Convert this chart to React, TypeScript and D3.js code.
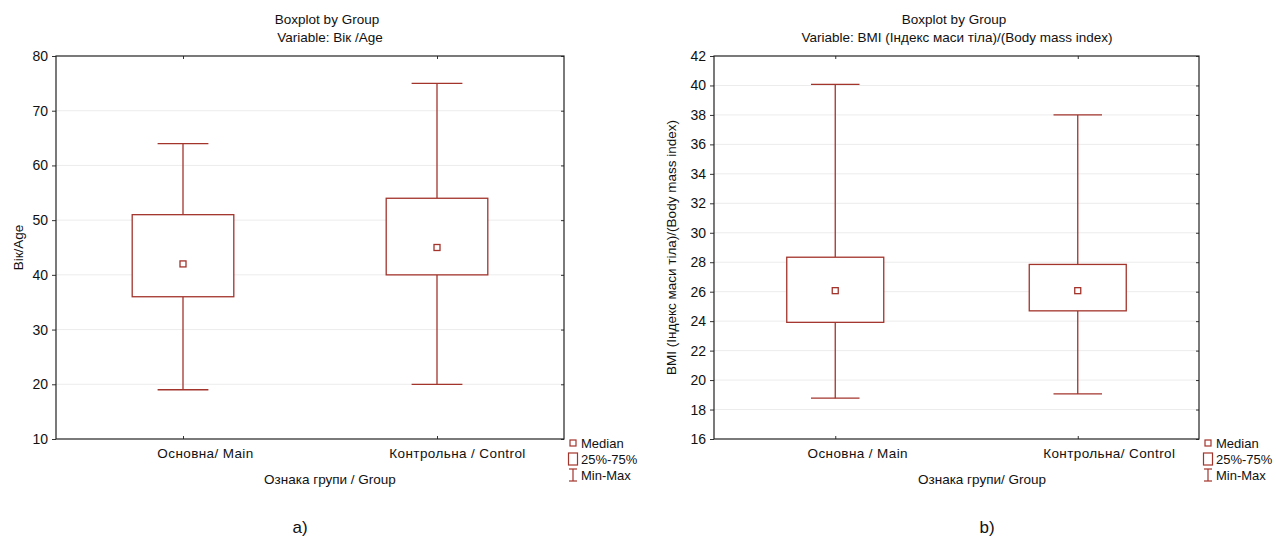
import React, { useRef, useEffect } from "react"
import * as d3 from "d3"

// groups
const categoriesA = ["Основна/ Main", "Контрольна / Control"]
const categoriesB = ["Основна / Main", "Контрольна/ Control"]

// a) age
const ageMin = [19, 20]
const ageQ1 = [36, 40]
const ageMedian = [42, 45]
const ageQ3 = [51, 54]
const ageMax = [64, 75]
const ageTicks = [10, 20, 30, 40, 50, 60, 70, 80]

// b) BMI
const bmiMin = [18.77, 19.06]
const bmiQ1 = [23.92, 24.7]
const bmiMedian = [26.07, 26.07]
const bmiQ3 = [28.34, 27.85]
const bmiMax = [40.08, 38.0]
const bmiTicks = [16, 18, 20, 22, 24, 26, 28, 30, 32, 34, 36, 38, 40, 42]

const legendLabels = ["Median", "25%-75%", "Min-Max"]

const RED = "#a3342c"
const FONT = "'Liberation Sans', Arial, sans-serif"

const App = () => {
    let element = useRef<SVGSVGElement>(null)

    useEffect(() => {
        const svg = d3.select(element.current)
        svg.selectAll("*").remove()

        const panels = [
            {
                cats: categoriesA, min: ageMin, q1: ageQ1, med: ageMedian, q3: ageQ3, max: ageMax,
                ticks: ageTicks, x0: 56, x1: 564, titleX: 330, xTitleX: 330, yLabelX: 18,
                title2: "Variable: Вік /Age", yLabel: "Вік/Age", xTitle: "Ознака групи / Group",
                legendX: 573, tag: "a)", tagX: 300, labelDx: [22, 20]
            },
            {
                cats: categoriesB, min: bmiMin, q1: bmiQ1, med: bmiMedian, q3: bmiQ3, max: bmiMax,
                ticks: bmiTicks, x0: 714, x1: 1199, titleX: 957, xTitleX: 982, yLabelX: 671,
                title2: "Variable: BMI (Індекс маси тіла)/(Body mass index)",
                yLabel: "BMI (Індекс маси тіла)/(Body mass index)", xTitle: "Ознака групи/ Group",
                legendX: 1208, tag: "b)", tagX: 987, labelDx: [22, 31]
            }
        ]
        const top = 56, bottom = 439

        panels.forEach(p => {
            const g = svg.append("g")
            let x = d3.scalePoint<string>().domain(p.cats).range([p.x0, p.x1]).padding(0.5)
            let y = d3.scaleLinear()
                .domain([p.ticks[0], p.ticks[p.ticks.length - 1]])
                .range([bottom, top])
            const step = x.step()

            // grid
            g.append("g").selectAll("line")
                .data(p.ticks.slice(1, -1))
                .join("line")
                .attr("x1", p.x0).attr("x2", p.x1)
                .attr("y1", d => y(d)).attr("y2", d => y(d))
                .attr("stroke", "#ececec")

            // left axis
            const yAxis = g.append("g")
                .attr("transform", `translate(${p.x0},0)`)
                .call(d3.axisLeft(y).tickValues(p.ticks).tickSize(4).tickPadding(4).tickFormat(d3.format("d")))
            yAxis.select(".domain").remove()
            yAxis.selectAll("text").attr("font-size", 14).attr("font-family", FONT).attr("fill", "#111")
            yAxis.selectAll("line").attr("stroke", "#333")

            // right inner ticks
            const yAxisR = g.append("g")
                .attr("transform", `translate(${p.x1},0)`)
                .call(d3.axisLeft(y).tickValues(p.ticks).tickSize(3).tickFormat(() => ""))
            yAxisR.select(".domain").remove()
            yAxisR.selectAll("line").attr("stroke", "#333").attr("x2", -3)

            // bottom axis
            const xAxis = g.append("g")
                .attr("transform", `translate(0,${bottom})`)
                .call(d3.axisBottom(x).tickSize(-3).tickPadding(9))
            xAxis.select(".domain").remove()
            xAxis.selectAll("text")
                .attr("font-size", 13.5).attr("font-family", FONT).attr("fill", "#111")
                .attr("dx", (_d, i) => p.labelDx[i])
                .attr("letter-spacing", 0.4)
            xAxis.selectAll("line").attr("stroke", "#333")

            // top ticks
            const xAxisT = g.append("g")
                .attr("transform", `translate(0,${top})`)
                .call(d3.axisTop(x).tickSize(-3).tickFormat(() => ""))
            xAxisT.select(".domain").remove()
            xAxisT.selectAll("line").attr("stroke", "#333")

            // frame
            g.append("rect")
                .attr("x", p.x0).attr("y", top)
                .attr("width", p.x1 - p.x0).attr("height", bottom - top)
                .attr("fill", "none").attr("stroke", "#222").attr("stroke-width", 1.2)

            // boxes
            const boxHalf = step * 0.2, capHalf = step * 0.1
            p.cats.forEach((c, i) => {
                const cx = x(c)!
                const bg = g.append("g").attr("stroke", RED).attr("stroke-width", 1.3).attr("fill", "none")
                bg.append("line").attr("x1", cx).attr("x2", cx).attr("y1", y(p.max[i])).attr("y2", y(p.q3[i]))
                bg.append("line").attr("x1", cx).attr("x2", cx).attr("y1", y(p.q1[i])).attr("y2", y(p.min[i]))
                bg.append("line").attr("x1", cx - capHalf).attr("x2", cx + capHalf).attr("y1", y(p.max[i])).attr("y2", y(p.max[i]))
                bg.append("line").attr("x1", cx - capHalf).attr("x2", cx + capHalf).attr("y1", y(p.min[i])).attr("y2", y(p.min[i]))
                bg.append("rect")
                    .attr("x", cx - boxHalf).attr("y", y(p.q3[i]))
                    .attr("width", boxHalf * 2).attr("height", y(p.q1[i]) - y(p.q3[i]))
                    .attr("fill", "white")
                bg.append("rect")
                    .attr("x", cx - 3).attr("y", y(p.med[i]) - 3)
                    .attr("width", 6).attr("height", 6).attr("fill", "white")
            })

            // titles
            const t = g.append("g").attr("font-family", FONT).attr("font-size", 13.5).attr("fill", "#111").attr("text-anchor", "middle")
            t.append("text").attr("x", p.titleX - 3).attr("y", 24).text("Boxplot by Group")
            t.append("text").attr("x", p.titleX).attr("y", 42).text(p.title2)
            t.append("text").attr("x", p.xTitleX).attr("y", 484).text(p.xTitle)
            t.append("text")
                .attr("transform", `translate(${p.yLabelX},${(top + bottom) / 2}) rotate(-90)`)
                .attr("dy", "0.35em")
                .text(p.yLabel)
            t.append("text").attr("x", p.tagX).attr("y", 533).attr("font-size", 17).text(p.tag)

            // legend
            const lg = g.append("g").attr("font-family", FONT).attr("font-size", 13).attr("fill", "#111")
            const lx = p.legendX
            const rows = [443, 459, 475]
            lg.append("rect").attr("x", lx - 3).attr("y", rows[0] - 3).attr("width", 6).attr("height", 6)
                .attr("fill", "white").attr("stroke", RED).attr("stroke-width", 1.2)
            lg.append("rect").attr("x", lx - 4.5).attr("y", rows[1] - 6).attr("width", 9).attr("height", 12)
                .attr("fill", "white").attr("stroke", RED).attr("stroke-width", 1.2)
            const mm = lg.append("g").attr("stroke", RED).attr("stroke-width", 1.2)
            mm.append("line").attr("x1", lx).attr("x2", lx).attr("y1", rows[2] - 6).attr("y2", rows[2] + 6)
            mm.append("line").attr("x1", lx - 4).attr("x2", lx + 4).attr("y1", rows[2] - 6).attr("y2", rows[2] - 6)
            mm.append("line").attr("x1", lx - 4).attr("x2", lx + 4).attr("y1", rows[2] + 6).attr("y2", rows[2] + 6)
            lg.selectAll("text.lab")
                .data(legendLabels)
                .join("text")
                .attr("class", "lab")
                .attr("x", lx + 8)
                .attr("y", (_d, i) => rows[i])
                .attr("dy", "0.35em")
                .text(d => d)
        })
    }, [])

    return (
        <svg ref={element} width={1276} height={540}
            style={{ position: "absolute", left: 0, top: 0, background: "white" }} />
    )
}

export default App
